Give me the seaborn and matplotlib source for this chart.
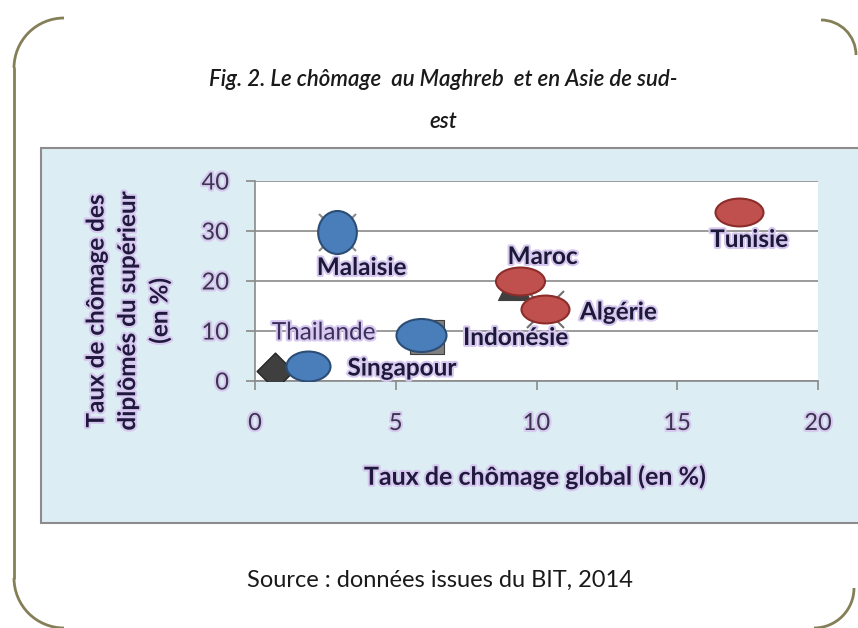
import numpy as np
import pandas as pd
import matplotlib.pyplot as plt
import seaborn as sns
from matplotlib.path import Path
from matplotlib.patches import Rectangle, Arc
import matplotlib.patheffects as pe

# données (BIT, 2014)
pays = ["Thailande", "Singapour", "Indonésie", "Malaisie", "Maroc", "Algérie", "Tunisie"]
chomage_global = [0.7, 1.9, 5.9, 2.9, 9.4, 10.3, 17.2]
chomage_diplomes = [2.0, 3.0, 9.3, 29.9, 20.1, 14.4, 33.9]
region = ["Asie", "Asie", "Asie", "Asie", "Maghreb", "Maghreb", "Maghreb"]

# marqueurs Excel d'origine, à moitié cachés derrière les ellipses
caches_pays = ["Indonésie", "Malaisie", "Maroc", "Algérie"]
caches_x = [6.1, 2.9, 9.2, 10.3]
caches_y = [8.8, 29.9, 19.4, 14.4]

x_ticks = [0, 5, 10, 15, 20]
y_ticks = [0, 10, 20, 30, 40]

df = pd.DataFrame({"pays": pays, "x": chomage_global, "y": chomage_diplomes, "region": region})
df_caches = pd.DataFrame({"pays": caches_pays, "x": caches_x, "y": caches_y})

# style (forme des ellipses: largeur, hauteur, taille en px)
formes = {
    "Singapour": (1.0, 0.68, 44),
    "Indonésie": (1.0, 0.66, 50),
    "Malaisie": (0.9, 1.0, 43),
    "Maroc": (1.0, 0.57, 49),
    "Algérie": (1.0, 0.58, 48),
    "Tunisie": (1.0, 0.58, 48),
}
couleurs = {"Asie": ("#4a7ebb", "#2c4d75"), "Maghreb": ("#c0504d", "#8b2d2a")}
style_caches = {"Indonésie": ("s", 34, "#7f7f7f"), "Malaisie": ("x", 37, "#8c8c8c"),
                "Maroc": ("^", 32, "#404040"), "Algérie": ("x", 37, "#707070")}
# position des étiquettes (décalage en px, alignement)
etiquettes = {
    "Thailande": (49, 38, "center"),
    "Singapour": (39, -2, "left"),
    "Indonésie": (42, -3, "left"),
    "Malaisie": (25, -36, "center"),
    "Maroc": (23, 24, "center"),
    "Algérie": (35, -3, "left"),
    "Tunisie": (10, -28, "center"),
}

PX = 0.72  # points par pixel à 100 dpi


def ellipse(w, h):
    c = Path.unit_circle()
    return Path(c.vertices * np.array([w, h]), c.codes)


sns.set_style("white")
plt.rcParams["font.family"] = ["Lato", "DejaVu Sans"]

fig = plt.figure(figsize=(8.58, 6.28), dpi=100)

bg = fig.add_axes([0, 0, 1, 1])
bg.set_xlim(0, 858)
bg.set_ylim(628, 0)
bg.axis("off")

cadre = "#857f58"
bg.plot([14, 14], [68, 578], color=cadre, lw=2)
bg.add_patch(Arc((64, 68), 100, 100, theta1=180, theta2=270, color=cadre, lw=2))
bg.add_patch(Arc((64, 578), 100, 100, theta1=90, theta2=180, color=cadre, lw=2))
bg.add_patch(Arc((821, 55), 70, 70, theta1=270, theta2=360, color=cadre, lw=2))
bg.add_patch(Arc((814, 588), 80, 80, theta1=0, theta2=90, color=cadre, lw=2))
bg.add_patch(Rectangle((41, 148), 830, 375, facecolor="#dcedf3", edgecolor="#8c8c8c", lw=1.5))

bg.text(443, 80, "Fig. 2. Le chômage  au Maghreb  et en Asie de sud-", ha="center", va="center",
        style="italic", fontsize=16, fontweight="semibold", color="#1a1a1a")
bg.text(443, 121, "est", ha="center", va="center", style="italic", fontsize=16,
        fontweight="semibold", color="#1a1a1a")

glow = [pe.withStroke(linewidth=3, foreground="#d6c8ef")]
bg.text(535, 477, "Taux de chômage global (en %)", ha="center", va="center", fontsize=18,
        fontweight="bold", color="#1f1a3d", path_effects=glow)
bg.text(128, 311, "Taux de chômage des\ndiplômés du supérieur\n(en %)", ha="center", va="center",
        rotation=90, fontsize=17.5, fontweight="bold", color="#1f1a3d", linespacing=1.45,
        multialignment="center", path_effects=glow)
bg.text(440, 580, "Source : données issues du BIT, 2014", ha="center", va="center",
        fontsize=17, color="#1a1a1a")

ax = fig.add_axes([255 / 858, (628 - 381) / 628, 563 / 858, 200 / 628])
ax.set_facecolor("white")

for _, r in df_caches.iterrows():
    m, taille, c = style_caches[r.pays]
    sns.scatterplot(x=[r.x], y=[r.y], marker=m, s=(taille * PX) ** 2, color=c,
                    edgecolor="#404040" if m != "x" else None, linewidth=1.5 if m == "x" else 0.8,
                    ax=ax, zorder=3, legend=False)

row = df[df.pays == "Thailande"]
sns.scatterplot(data=row, x="x", y="y", marker="D", s=(26 * PX) ** 2, color="#3f3f3f",
                edgecolor="#262626", linewidth=1, ax=ax, zorder=3, legend=False)

for p, (w, h, taille) in formes.items():
    row = df[df.pays == p]
    fc, ec = couleurs[row.region.iloc[0]]
    sns.scatterplot(data=row, x="x", y="y", marker=ellipse(w, h), s=(taille * PX) ** 2,
                    color=fc, edgecolor=ec, linewidth=1.5, ax=ax, zorder=4, legend=False)

for _, r in df.iterrows():
    dx, dy, ha = etiquettes[r.pays]
    thai = r.pays == "Thailande"
    ax.annotate(r.pays, (r.x, r.y), xytext=(dx, dy), textcoords="offset pixels",
                ha=ha, va="center", fontsize=17.5,
                fontweight="normal" if thai else "bold",
                color="#3d2f5c" if thai else "#1c1838", path_effects=glow,
                zorder=6, annotation_clip=False)

ax.set_xlim(0, 20)
ax.set_ylim(0, 40)
ax.set_xticks(x_ticks)
ax.set_yticks(y_ticks)
ax.set_xlabel("")
ax.set_ylabel("")
ax.grid(axis="y", color="#8a8a8a", lw=1.2)
ax.set_axisbelow(True)
for s in ["top", "right"]:
    ax.spines[s].set_visible(False)
for s in ["left", "bottom"]:
    ax.spines[s].set_color("#8a8a8a")
    ax.spines[s].set_linewidth(1.2)
ax.tick_params(axis="x", direction="out", length=9 * PX, width=1.2, color="#8a8a8a", pad=23 * PX,
               labelsize=17, labelcolor="#3b3650")
ax.tick_params(axis="y", direction="out", length=9 * PX, width=1.2, color="#8a8a8a", pad=17 * PX,
               labelsize=17, labelcolor="#3b3650")
ax.xaxis.set_ticks_position("bottom")
ax.yaxis.set_ticks_position("left")
for t in ax.get_xticklabels() + ax.get_yticklabels():
    t.set_path_effects(glow)

fig.savefig("out.png", dpi=100)
